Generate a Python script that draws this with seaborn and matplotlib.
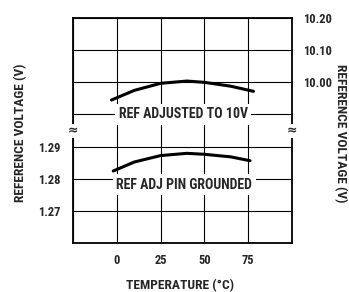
import numpy as np
import pandas as pd
import seaborn as sns
import matplotlib.pyplot as plt

# values
temp_10v = [-3, 10, 25, 40, 50, 65, 78]
vref_10v = [9.945, 9.975, 9.997, 10.004, 10.000, 9.988, 9.972]

temp_gnd = [-2, 10, 25, 40, 50, 65, 76]
vref_gnd = [1.2824, 1.2852, 1.2872, 1.2879, 1.2876, 1.2868, 1.2856]

x_ticks = [-25, 0, 25, 50, 75, 100]
x_labels = ["", "0", "25", "50", "75", ""]
left_ticks = [1.26, 1.27, 1.28, 1.29, 1.30, 1.31, 1.32, 1.33]
left_labels = ["", "1.27", "1.28", "1.29", "", "", "", ""]
right_ticks = [10.00, 10.10, 10.20]
right_labels = ["10.00", "10.10", "10.20"]

df_10v = pd.DataFrame({"temp": temp_10v, "v": vref_10v})
df_gnd = pd.DataFrame({"temp": temp_gnd, "v": vref_gnd})

sns.set_style("white")
plt.rcParams['font.family'] = ['Roboto Condensed', 'Asap Condensed', 'DejaVu Sans']
plt.rcParams['font.weight'] = 'bold'

fig = plt.figure(figsize=(3.49, 2.92), dpi=100)
ax = fig.add_axes([0.209, 0.168, 0.628, 0.770])
ax2 = ax.twinx()

sns.lineplot(data=df_gnd, x="temp", y="v", ax=ax, color="black", linewidth=2.2)
sns.lineplot(data=df_10v, x="temp", y="v", ax=ax2, color="black", linewidth=2.2)

ax.set_xlim(-25, 100)
ax.set_ylim(1.26, 1.33)
ax2.set_ylim(9.50, 10.20)

ax.set_xticks(x_ticks)
ax.set_xticklabels(x_labels)
ax.set_yticks(left_ticks)
ax.set_yticklabels(left_labels)
ax2.set_yticks(right_ticks)
ax2.set_yticklabels(right_labels)

ax.grid(True, color="black", linewidth=0.8)
ax.set_axisbelow(True)
ax.tick_params(axis="x", length=0, labelsize=9, pad=8)
ax.tick_params(axis="y", length=0, labelsize=9, pad=9)
ax2.tick_params(axis="y", length=0, labelsize=9, pad=8)
for s in ax.spines.values():
    s.set_color("black")
    s.set_linewidth(1.3)
for s in ax2.spines.values():
    s.set_visible(False)

ax.set_xlabel("TEMPERATURE (°C)", fontsize=9.7, fontweight="bold")
ax.set_ylabel("REFERENCE VOLTAGE (V)", fontsize=9.7, fontweight="bold")
ax2.set_ylabel("REFERENCE VOLTAGE (V)", fontsize=9.7, fontweight="bold", rotation=-90)
ax.xaxis.set_label_coords(0.49, -0.16)
ax.yaxis.set_label_coords(-0.21, 0.49)
ax2.yaxis.set_label_coords(1.25, 0.49)

box = dict(facecolor="white", edgecolor="none", pad=2.5)
ax2.text(38, 9.90, "REF ADJUSTED TO 10V", ha="center", va="center",
         fontsize=10, fontweight="bold", bbox=box)
ax.text(38.5, 1.2781, "REF ADJ PIN GROUNDED", ha="center", va="center",
        fontsize=10, fontweight="bold", bbox=box)

# axis break marks
for xb in (0, 1):
    ax2.text(xb, 0.497, "≈", transform=ax2.transAxes, ha="center", va="center",
             fontsize=9, family="DejaVu Sans",
             bbox=dict(facecolor="white", edgecolor="none", pad=0.3))

fig.savefig("out.png", dpi=100)
